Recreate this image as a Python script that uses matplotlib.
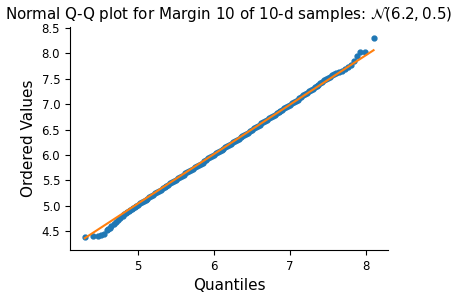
import matplotlib
matplotlib.use("Agg")
import matplotlib.pyplot as plt
import numpy as np

# theoretical quantiles (x) and ordered sample values (y)
tail_low_q = [4.30, 4.41, 4.48, 4.52, 4.55, 4.59, 4.61, 4.63, 4.65, 4.68,
              4.71, 4.74, 4.77, 4.80, 4.82, 4.84, 4.86, 4.88, 4.90, 4.92,
              4.94, 4.96, 4.98, 5.00]
tail_low_v = [4.39, 4.40, 4.40, 4.43, 4.44, 4.53, 4.55, 4.57, 4.60, 4.64,
              4.68, 4.72, 4.76, 4.80, 4.83, 4.85, 4.87, 4.89, 4.91, 4.93,
              4.95, 4.97, 4.99, 5.01]

body_q = [5.025, 5.050, 5.075, 5.100, 5.125, 5.150, 5.175, 5.200, 5.225, 5.250,
          5.275, 5.300, 5.325, 5.350, 5.375, 5.400, 5.425, 5.450, 5.475, 5.500,
          5.525, 5.550, 5.575, 5.600, 5.625, 5.650, 5.675, 5.700, 5.725, 5.750,
          5.775, 5.800, 5.825, 5.850, 5.875, 5.900, 5.925, 5.950, 5.975, 6.000,
          6.025, 6.050, 6.075, 6.100, 6.125, 6.150, 6.175, 6.200, 6.225, 6.250,
          6.275, 6.300, 6.325, 6.350, 6.375, 6.400, 6.425, 6.450, 6.475, 6.500,
          6.525, 6.550, 6.575, 6.600, 6.625, 6.650, 6.675, 6.700, 6.725, 6.750,
          6.775, 6.800, 6.825, 6.850, 6.875, 6.900, 6.925, 6.950, 6.975, 7.000,
          7.025, 7.050, 7.075, 7.100, 7.125, 7.150, 7.175, 7.200, 7.225, 7.250,
          7.275, 7.300, 7.325, 7.350, 7.375, 7.400, 7.425, 7.450, 7.475, 7.500,
          7.525, 7.550, 7.575, 7.600]
body_v = [5.05, 5.07, 5.10, 5.12, 5.14, 5.17, 5.19, 5.22, 5.24, 5.27,
          5.29, 5.31, 5.34, 5.36, 5.39, 5.41, 5.44, 5.46, 5.49, 5.51,
          5.54, 5.56, 5.59, 5.61, 5.64, 5.66, 5.69, 5.71, 5.73, 5.76,
          5.78, 5.80, 5.83, 5.85, 5.88, 5.90, 5.93, 5.95, 5.98, 6.00,
          6.03, 6.05, 6.08, 6.10, 6.12, 6.15, 6.17, 6.20, 6.22, 6.25,
          6.27, 6.30, 6.32, 6.35, 6.37, 6.40, 6.42, 6.44, 6.47, 6.49,
          6.52, 6.54, 6.57, 6.59, 6.62, 6.64, 6.67, 6.69, 6.72, 6.74,
          6.77, 6.79, 6.82, 6.84, 6.87, 6.89, 6.92, 6.94, 6.97, 6.99,
          7.02, 7.04, 7.07, 7.09, 7.12, 7.14, 7.17, 7.20, 7.22, 7.25,
          7.28, 7.30, 7.33, 7.36, 7.38, 7.41, 7.44, 7.47, 7.49, 7.52,
          7.54, 7.57, 7.59, 7.61]

tail_high_q = [7.64, 7.68, 7.72, 7.76, 7.80, 7.84, 7.886, 7.92, 7.99, 8.10]
tail_high_v = [7.64, 7.66, 7.70, 7.74, 7.78, 7.84, 7.95, 8.03, 8.03, 8.30]

# least-squares line as drawn in the picture
fit_slope = 0.974
fit_intercept = 0.172

x = np.array(tail_low_q + body_q + tail_high_q)
y = np.array(tail_low_v + body_v + tail_high_v)
x_ends = np.array([x.min(), x.max()])

fig = plt.figure(figsize=(4.57, 2.96), dpi=100)
ax = fig.add_axes([0.153, 0.155, 0.696, 0.754])

ax.plot(x, y, marker=".", markersize=7, linestyle="None", color="#1f77b4")
ax.plot(x_ends, fit_slope * x_ends + fit_intercept, color="#ff7f0e", linewidth=1.5)

ax.set_xlim(4.105, 8.29)
ax.set_ylim(4.125, 8.52)
ax.set_xticks([5, 6, 7, 8])
ax.set_yticks(np.arange(4.5, 8.51, 0.5))
ax.tick_params(labelsize=8.5)
ax.spines["top"].set_visible(False)
ax.spines["right"].set_visible(False)

ax.set_title(r"Normal Q-Q plot for Margin 10 of 10-d samples: $\mathcal{N}(6.2, 0.5)$", fontsize=10.9)
ax.set_xlabel("Quantiles", fontsize=11)
ax.set_ylabel("Ordered Values", fontsize=11)

fig.savefig("out.png", dpi=100)
